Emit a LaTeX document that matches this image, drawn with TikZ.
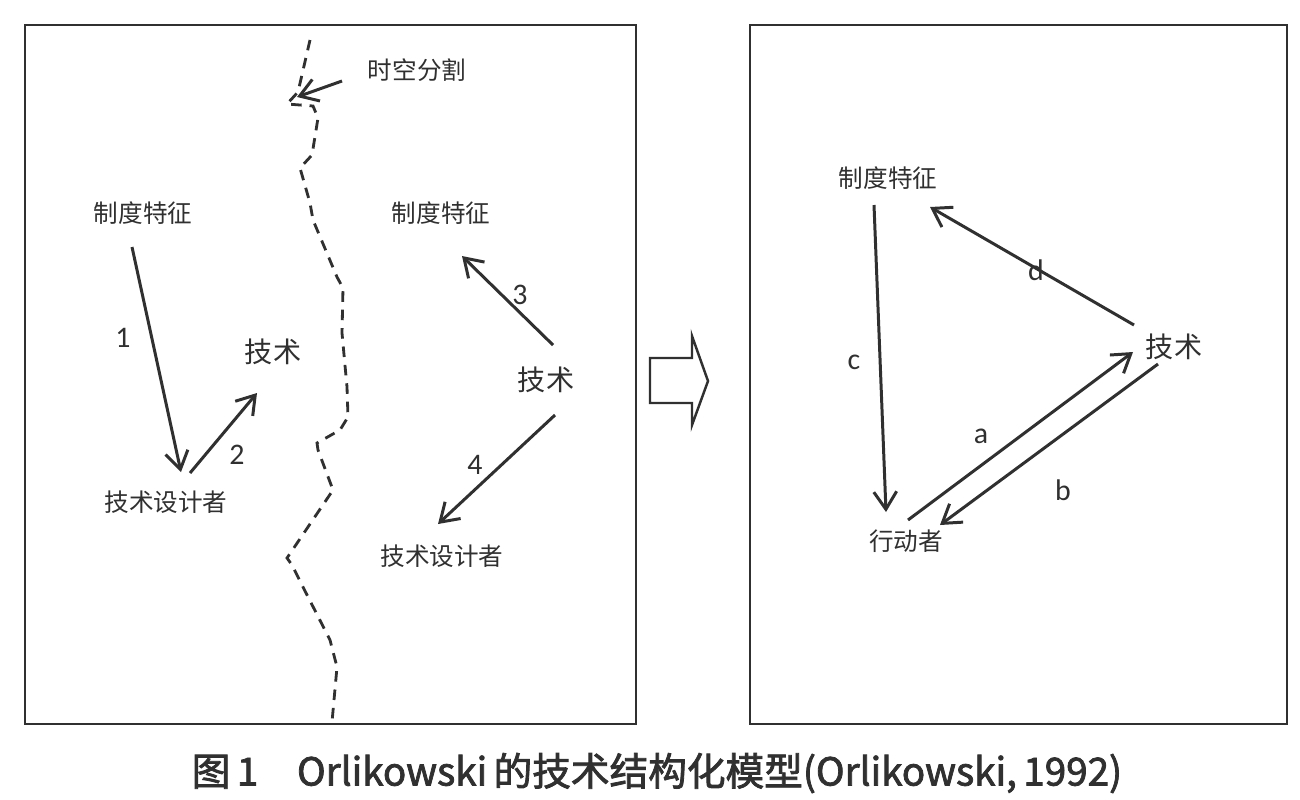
\documentclass[tikz,border=0pt]{standalone}
\usepackage{fontspec}
\setmainfont{Carlito}
\newfontfamily\cjk{Noto Sans CJK SC}
\newfontfamily\capfont[FakeBold=2]{Noto Sans CJK SC}
\usetikzlibrary{arrows.meta}
\definecolor{ink}{HTML}{303030}

\begin{document}
\begin{tikzpicture}[x=0.02cm, y=-0.02cm, every node/.style={inner sep=0pt, text=ink}]
  \tikzstyle{lbl}=[font=\cjk\fontsize{14}{14}\selectfont]
  \tikzstyle{big}=[font=\cjk\fontsize{16}{16}\selectfont]
  \tikzstyle{num}=[font=\fontsize{17}{17}\selectfont]
  \tikzstyle{arr}=[draw=ink, line width=1.7pt, -{Straight Barb[length=10pt,width=13pt]}]
  \useasboundingbox (0,0) rectangle (1300,799);
  \fill[white] (0,0) rectangle (1300,799);
  \draw[ink, line width=1.4pt] (25,25) rectangle (636,724);
  \draw[ink, line width=1.4pt] (750,25) rectangle (1287,724);

  % left panel
  \node[lbl] (zdL) at (143,213) {制度特征};
  \node[big] (jsL) at (273,352) {技术};
  \node[lbl] (sjL) at (166,502) {技术设计者};
  \node[lbl] (sk) at (417,70) {时空分割};
  \node[lbl] (zdM) at (441,213) {制度特征};
  \node[big] (jsM) at (546,380) {技术};
  \node[lbl] (sjM) at (442,556) {技术设计者};
  \node[num] (n1) at (123,338) {1};
  \node[num] (n2) at (237,455) {2};
  \node[num] (n3) at (520,295) {3};
  \node[num] (n4) at (475,465) {4};
  \coordinate (p1) at (132,247);  \coordinate (q1) at (181,472);
  \coordinate (p2) at (190,473);  \coordinate (q2) at (257,393);
  \coordinate (p3) at (553,345);  \coordinate (q3) at (462,256);
  \coordinate (p4) at (555,415);  \coordinate (q4) at (438,524);
  \coordinate (ps) at (342,81);   \coordinate (qs) at (297,97);
  \draw[arr] (p1) -- (q1);
  \draw[arr] (p2) -- (q2);
  \draw[arr] (p3) -- (q3);
  \draw[arr] (p4) -- (q4);
  \draw[arr] (ps) -- (qs);
  % dashed border
  \draw[ink, line width=1.6pt, dash pattern=on 6pt off 4.5pt]
    (310,40) -- (298,92) -- (287,104) -- (313,106) -- (318,118) -- (312,155) -- (300,168)
    -- (310,203) -- (313,220) -- (337,277) -- (343,288) -- (342,333) -- (347,387) -- (348,417)
    -- (340,430) -- (317,443) -- (318,450) -- (333,490) -- (287,558) -- (292,565) -- (303,587)
    -- (330,640) -- (337,667) -- (332,722);

  % hollow arrow
  \draw[ink, line width=1.4pt] (650,358) -- (692,358) -- (692,336) -- (708,381) -- (692,425)
    -- (692,403) -- (650,403) -- cycle;

  % right panel
  \node[lbl] (zdR) at (888,178) {制度特征};
  \node[big] (jsR) at (1174,347) {技术};
  \node[lbl] (xd) at (906,541) {行动者};
  \node[num] (la) at (981,436) {a};
  \node[num] (lb) at (1063,490) {b};
  \node[num] (lc) at (854,362) {c};
  \node[num] (ld) at (1036,270) {d};
  \coordinate (pc) at (874,205);  \coordinate (qc) at (886,512);
  \coordinate (pd) at (1134,325); \coordinate (qd) at (930,207);
  \coordinate (pa) at (908,520);  \coordinate (qa) at (1133,352);
  \coordinate (pb) at (1158,364); \coordinate (qb) at (940,525);
  \draw[arr] (pc) -- (qc);
  \draw[arr] (pd) -- (qd);
  \draw[arr] (pa) -- (qa);
  \draw[arr] (pb) -- (qb);

  \node[font=\capfont\fontsize{22}{22}\selectfont] (cap) at (657,773)
    {图\,1\quad Orlikowski\,的技术结构化模型(Orlikowski,\,1992)};
\end{tikzpicture}
\end{document}
